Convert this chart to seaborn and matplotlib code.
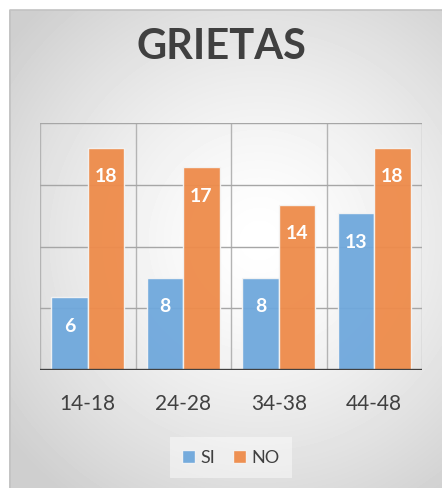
import numpy as np
import pandas as pd
import seaborn as sns
import matplotlib.pyplot as plt

categorias = ["14-18", "24-28", "34-38", "44-48"]
si_alto = [5.9, 7.45, 7.45, 12.7]
no_alto = [18.0, 16.4, 13.4, 18.0]
si_etiqueta = ["6", "8", "8", "13"]
no_etiqueta = ["18", "17", "14", "18"]

df = pd.DataFrame({
    "rango": categorias * 2,
    "valor": si_alto + no_alto,
    "grupo": ["SI"] * 4 + ["NO"] * 4,
})

plt.rcParams['font.family'] = ['Lato', 'DejaVu Sans']
colores = {"SI": "#6FA8DC", "NO": "#EE8B4A"}
gris = "#404040"

fig = plt.figure(figsize=(4.42, 4.88), dpi=100)

# fondo con degradado radial
bg = fig.add_axes([9 / 442, 0, 433 / 442, 478 / 488])
yy, xx = np.mgrid[0:478, 0:433]
r = np.sqrt(((xx - 250) / 320) ** 2 + ((yy - 230) / 320) ** 2)
bg.imshow(1 - 0.19 * np.clip(r, 0, 1) ** 1.4, cmap="gray", vmin=0, vmax=1,
          aspect="auto", interpolation="bilinear")
bg.axis("off")
fig.add_artist(plt.Line2D([9.5 / 442, 9.5 / 442, 1], [0, 478 / 488, 478 / 488],
                          transform=fig.transFigure, color="#c2c2c2", linewidth=1.2))

ax = fig.add_axes([40 / 442, 118 / 488, 382 / 442, 247 / 488])
ax.set_facecolor("none")
sns.barplot(data=df, x="rango", y="valor", hue="grupo", palette=colores, width=0.76,
            saturation=1, edgecolor="#f4f4f4", linewidth=1, alpha=0.95, ax=ax, zorder=2)

ax.set_ylim(0, 20)
ax.set_xlim(-0.5, 3.5)
ax.set_yticks([5, 10, 15, 20])
ax.set_yticklabels([])
ax.tick_params(axis="y", length=0)
ax.tick_params(axis="x", length=0, pad=17, labelsize=15, labelcolor=gris)
ax.set_xlabel("")
ax.set_ylabel("")
ax.grid(axis="y", color="#a6a6a6", linewidth=1, zorder=0)
for xv in [-0.5, 0.5, 1.5, 2.5, 3.5]:
    ax.axvline(xv, color="#b4b4b4", linewidth=1, zorder=0)
for s in ax.spines.values():
    s.set_visible(False)
ax.axhline(0, color=gris, linewidth=2.4, zorder=3)

for cont, etiquetas in zip(ax.containers, [si_etiqueta, no_etiqueta]):
    ax.bar_label(cont, labels=etiquetas, padding=-27, color="white", fontsize=14,
                 fontweight="bold")

fig.text(0.5, 441 / 488, "GRIETAS", ha="center", va="center", fontsize=30,
         fontweight="bold", color=gris)

leg = ax.legend(loc="center", bbox_to_anchor=(0.5, -0.355), ncol=2, frameon=True,
                fontsize=13, handlelength=0.7, handleheight=0.7, handletextpad=0.3,
                columnspacing=1.0, labelcolor=gris)
leg.get_frame().set_facecolor("white")
leg.get_frame().set_alpha(0.45)
leg.get_frame().set_edgecolor("none")
leg.get_frame().set_boxstyle("square", pad=0.3)

fig.savefig("out.png", dpi=100)
